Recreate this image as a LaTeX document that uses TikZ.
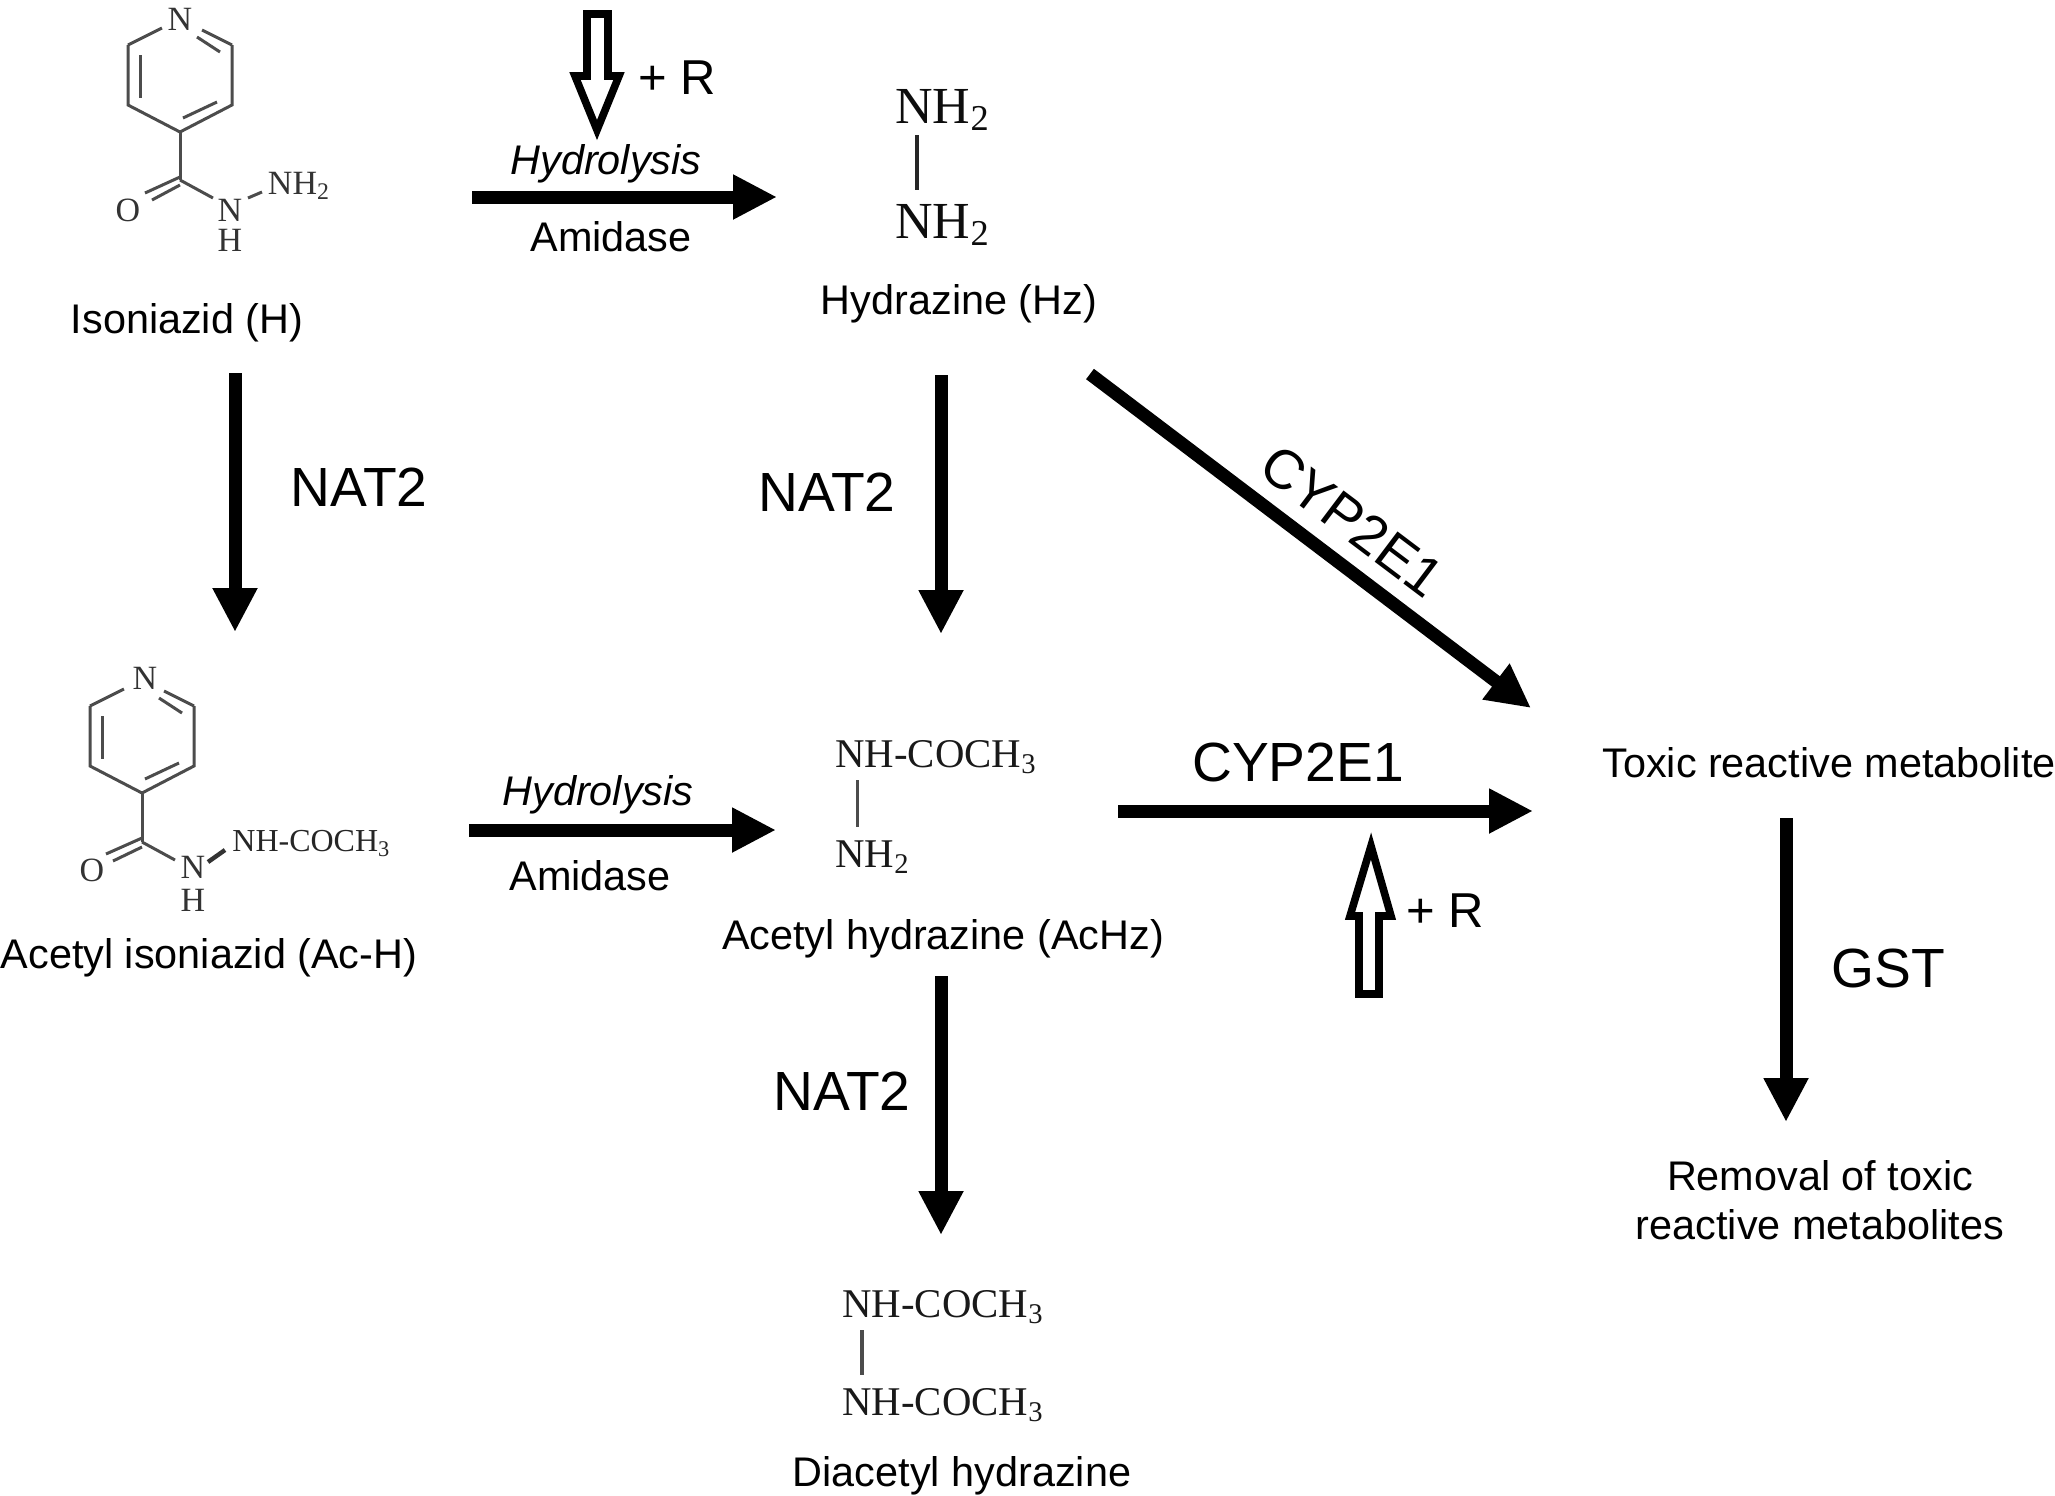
\documentclass[tikz,border=0pt]{standalone}
\usepackage{fontspec}
\setmainfont{Liberation Sans}
\newfontfamily\chemfont{Liberation Serif}
\usetikzlibrary{arrows.meta}
\tikzset{
  bigarrow/.style={line width=6.5pt,-{Triangle[length=22pt,width=21pt]}},
  openarrow/.style={line width=3.8pt,fill=white,line join=miter},
  bond/.style={line width=1.5pt,black!70},
  atomlabel/.style={inner sep=0pt,text=black!80,font=\chemfont\fontsize{17}{17}\selectfont},
  chemlabel/.style={inner sep=0pt,anchor=base west,text=black!85,font=\chemfont\fontsize{16}{16}\selectfont},
  hydlabel/.style={chemlabel,text=black!90,font=\chemfont\fontsize{20.4}{20.4}\selectfont},
  hzlabel/.style={chemlabel,text=black!95,font=\chemfont\fontsize{26}{26}\selectfont},
  caption/.style={inner sep=0pt,font=\fontsize{20.7}{20.7}\selectfont},
  captionit/.style={inner sep=0pt,font=\itshape\fontsize{20.7}{20.7}\selectfont},
  plusr/.style={inner sep=0pt,font=\fontsize{24.5}{24.5}\selectfont},
  enzyme/.style={inner sep=0pt,font=\fontsize{27.6}{27.6}\selectfont},
  ring/.pic={
    \draw[bond] (-52,-87) -- (-18,-104);
    \draw[bond] (52,-87) -- (22,-102);
    \draw[bond] (-52,-87) -- (-52,-27) -- (0,0) -- (52,-27) -- (52,-87);
    \draw[bond] (-40,-77) -- (-40,-34);
    \draw[bond] (17,-95) -- (40,-80);
    \draw[bond] (3,-14) -- (37,-30);
  }
}
\begin{document}
\begin{tikzpicture}[x=0.5pt,y=-0.5pt]
  \useasboundingbox (0,0) rectangle (2055,1495);
  % isoniazid
  \pic at (180,132) {ring};
  \node[atomlabel] (isoN) at (180,19) {N};
  \draw[bond] (180,132) -- (180,180);
  \draw[bond] (180,177) -- (145,193);
  \draw[bond] (180,185) -- (152,200);
  \draw[bond] (180,180) -- (213,198);
  \draw[bond] (248,198) -- (262,192);
  \node[atomlabel] (isoO) at (128,210) {O};
  \node[atomlabel] (isoNH) at (230,210) {N};
  \node[atomlabel] (isoH) at (230,240) {H};
  \node[atomlabel] (isoNtwo) at (299,186) {NH\textsubscript{2}};
  \node[caption] (isoniazid) at (187,323) {Isoniazid (H)};
  % acetyl isoniazid
  \pic at (142,793) {ring};
  \node[atomlabel] (acN) at (145,678) {N};
  \draw[bond] (142,793) -- (142,842);
  \draw[bond] (142,838) -- (106,854);
  \draw[bond] (142,847) -- (113,861);
  \draw[bond] (142,842) -- (175,860);
  \draw[line width=2.2pt,black!80] (208,862) -- (225,850);
  \node[atomlabel] (acO) at (92,870) {O};
  \node[atomlabel] (acNH) at (193,867) {N};
  \node[atomlabel] (acH) at (193,900) {H};
  \node[chemlabel] (acCH) at (232,851) {NH-COCH\textsubscript{3}};
  \node[caption] (acetylisoniazid) at (209,958) {Acetyl isoniazid (Ac-H)};
  % hydrazine
  \node[hzlabel] (hzA) at (895,123) {NH\textsubscript{2}};
  \node[hzlabel] (hzB) at (895,238) {NH\textsubscript{2}};
  \draw[bond,line width=1.8pt,black!85] (917,135) -- (917,190);
  \node[caption] (hydrazine) at (959,304) {Hydrazine (Hz)};
  % acetyl hydrazine
  \node[hydlabel] (achzA) at (835,767) {NH-COCH\textsubscript{3}};
  \node[hydlabel] (achzB) at (835,867) {NH\textsubscript{2}};
  \draw[bond] (857,780) -- (857,827);
  \node[caption] (acetylhydrazine) at (943,939) {Acetyl hydrazine (AcHz)};
  % diacetyl hydrazine
  \node[hydlabel] (diA) at (842,1317) {NH-COCH\textsubscript{3}};
  \node[hydlabel] (diB) at (842,1415) {NH-COCH\textsubscript{3}};
  \draw[bond,line width=2pt] (862,1330) -- (862,1375);
  \node[caption] (diacetyl) at (962,1476) {Diacetyl hydrazine};
  % right column
  \node[caption] (toxic) at (1829,763) {Toxic reactive metabolite};
  \node[caption,align=center] (removal) at (1820,1200) {Removal of toxic\\[4pt]reactive metabolites};
  % reaction labels
  \node[captionit] (hydrolysisA) at (606,164) {Hydrolysis};
  \node[caption] (amidaseA) at (611,237) {Amidase};
  \node[captionit] (hydrolysisB) at (598,795) {Hydrolysis};
  \node[caption] (amidaseB) at (590,876) {Amidase};
  \node[plusr] (plusA) at (677,78) {+ R};
  \node[plusr] (plusB) at (1445,911) {+ R};
  \node[enzyme] (natA) at (359,487) {NAT2};
  \node[enzyme] (natB) at (827,492) {NAT2};
  \node[enzyme] (natC) at (842,1091) {NAT2};
  \node[enzyme] (gst) at (1888,968) {GST};
  \node[enzyme] (cypH) at (1298,762) {CYP2E1};
  \node[enzyme,rotate=-37] (cypD) at (1352,521) {CYP2E1};
  % arrows
  \coordinate (a1) at (472,197); \coordinate (a2) at (777,197);
  \coordinate (b1) at (235,373); \coordinate (b2) at (235,632);
  \coordinate (c1) at (941,375); \coordinate (c2) at (941,634);
  \coordinate (d1) at (1090,374); \coordinate (d2) at (1531,708);
  \coordinate (e1) at (469,830); \coordinate (e2) at (776,830);
  \coordinate (f1) at (1118,811); \coordinate (f2) at (1533,811);
  \coordinate (g1) at (941,976); \coordinate (g2) at (941,1235);
  \coordinate (h1) at (1786,818); \coordinate (h2) at (1786,1122);
  \foreach \s/\t in {a1/a2,b1/b2,c1/c2,d1/d2,e1/e2,f1/f2,g1/g2,h1/h2}
    \draw[bigarrow] (\s) -- (\t);
  % open arrows
  \draw[openarrow] (587,14) -- (608,14) -- (608,76) -- (619,76) -- (597,130) -- (575,76) -- (587,76) -- cycle;
  \draw[openarrow] (1379,994) -- (1359,994) -- (1359,916) -- (1350,916) -- (1371,846) -- (1391,916) -- (1379,916) -- cycle;
\end{tikzpicture}
\end{document}
